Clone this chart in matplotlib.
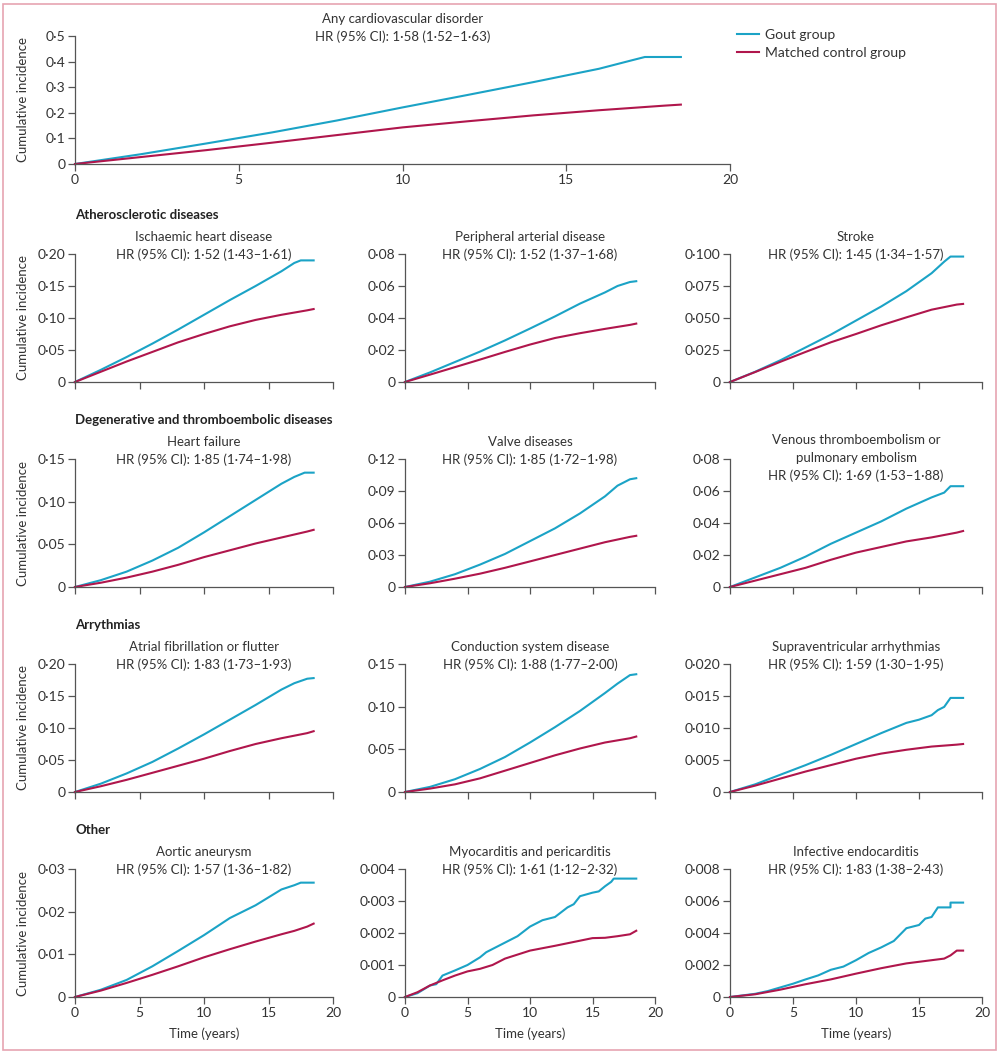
import matplotlib
matplotlib.use("Agg")
import matplotlib.pyplot as plt
from matplotlib.patches import Rectangle

plt.rcParams['font.family'] = ['Lato', 'DejaVu Sans']

BLUE = '#1ba3c6'
RED = '#b0164c'
TXT = '#333333'
AX = '#555555'

# ---- data ----
t_std = [0, 2, 4, 6, 8, 10, 12, 14, 16, 17, 18, 18.5]

# Any cardiovascular disorder
t_any = [0, 2, 4, 6, 8, 10, 12, 14, 16, 17, 17.4, 18.5]
gout_any = [0, 0.038, 0.08, 0.123, 0.17, 0.221, 0.27, 0.32, 0.372, 0.405, 0.418, 0.418]
t_any_c = [0, 2, 4, 6, 8, 10, 12, 14, 16, 18, 18.5]
ctrl_any = [0, 0.027, 0.054, 0.083, 0.113, 0.143, 0.167, 0.19, 0.21, 0.228, 0.232]

# Ischaemic heart disease
t_ihd = [0, 2, 4, 6, 8, 10, 12, 14, 16, 17, 17.5, 18.5]
gout_ihd = [0, 0.019, 0.039, 0.06, 0.082, 0.105, 0.128, 0.15, 0.173, 0.186, 0.19, 0.19]
t_ihd_c = [0, 2, 4, 6, 8, 10, 12, 14, 16, 18, 18.5]
ctrl_ihd = [0, 0.016, 0.032, 0.047, 0.062, 0.075, 0.087, 0.097, 0.105, 0.112, 0.114]

# Peripheral arterial disease
gout_pad = [0, 0.006, 0.0125, 0.019, 0.026, 0.0334, 0.041, 0.049, 0.056, 0.060, 0.0625, 0.063]
t_pad_c = [0, 2, 4, 6, 8, 10, 12, 14, 16, 18, 18.5]
ctrl_pad = [0, 0.0046, 0.0093, 0.014, 0.0188, 0.0234, 0.0275, 0.0305, 0.0332, 0.0357, 0.0365]

# Stroke
t_str = [0, 2, 4, 6, 8, 10, 12, 14, 16, 17, 17.5, 18.5]
gout_str = [0, 0.008, 0.017, 0.027, 0.037, 0.048, 0.059, 0.071, 0.085, 0.094, 0.098, 0.098]
t_str_c = [0, 2, 4, 6, 8, 10, 12, 14, 16, 18, 18.5]
ctrl_str = [0, 0.0078, 0.0158, 0.0235, 0.031, 0.0375, 0.0443, 0.0505, 0.0565, 0.0605, 0.061]

# Heart failure
t_hf = [0, 2, 4, 6, 8, 10, 12, 14, 16, 17, 17.8, 18.5]
gout_hf = [0, 0.008, 0.018, 0.031, 0.046, 0.064, 0.083, 0.102, 0.121, 0.129, 0.134, 0.134]
t_hf_c = [0, 2, 4, 6, 8, 10, 12, 14, 16, 18, 18.5]
ctrl_hf = [0, 0.005, 0.011, 0.018, 0.026, 0.035, 0.043, 0.051, 0.058, 0.065, 0.067]

# Valve diseases
gout_vd = [0, 0.005, 0.012, 0.021, 0.031, 0.043, 0.055, 0.069, 0.085, 0.095, 0.101, 0.102]
t_vd_c = [0, 2, 4, 6, 8, 10, 12, 14, 16, 18, 18.5]
ctrl_vd = [0, 0.0035, 0.0078, 0.0125, 0.018, 0.024, 0.030, 0.036, 0.042, 0.047, 0.048]

# Venous thromboembolism
t_vte = [0, 2, 4, 6, 8, 10, 12, 14, 16, 17, 17.5, 18.5]
gout_vte = [0, 0.006, 0.012, 0.019, 0.027, 0.034, 0.041, 0.049, 0.056, 0.059, 0.063, 0.063]
t_vte_c = [0, 2, 4, 6, 8, 10, 12, 14, 16, 18, 18.5]
ctrl_vte = [0, 0.004, 0.008, 0.012, 0.017, 0.0215, 0.025, 0.0285, 0.031, 0.034, 0.035]

# Atrial fibrillation or flutter
gout_af = [0, 0.013, 0.029, 0.047, 0.068, 0.090, 0.113, 0.136, 0.160, 0.170, 0.177, 0.178]
t_af_c = [0, 2, 4, 6, 8, 10, 12, 14, 16, 18, 18.5]
ctrl_af = [0, 0.009, 0.019, 0.030, 0.041, 0.052, 0.064, 0.075, 0.084, 0.092, 0.095]

# Conduction system disease
gout_csd = [0, 0.006, 0.015, 0.027, 0.041, 0.058, 0.076, 0.095, 0.116, 0.127, 0.137, 0.138]
t_csd_c = [0, 2, 4, 6, 8, 10, 12, 14, 16, 18, 18.5]
ctrl_csd = [0, 0.004, 0.009, 0.016, 0.025, 0.034, 0.043, 0.051, 0.058, 0.063, 0.065]

# Supraventricular arrhythmias
t_sva = [0, 2, 4, 6, 8, 10, 12, 14, 15, 16, 16.5, 17, 17.5, 18.5]
gout_sva = [0, 0.0012, 0.0027, 0.0042, 0.0058, 0.0075, 0.0092, 0.0108, 0.0113, 0.012, 0.0128, 0.0133, 0.0147, 0.0147]
t_sva_c = [0, 2, 4, 6, 8, 10, 12, 14, 16, 18, 18.5]
ctrl_sva = [0, 0.001, 0.0021, 0.0032, 0.0042, 0.0052, 0.006, 0.0066, 0.0071, 0.0074, 0.0075]

# Aortic aneurysm
t_aa = [0, 2, 4, 6, 8, 10, 12, 14, 16, 17, 17.5, 18.5]
gout_aa = [0, 0.0017, 0.004, 0.0072, 0.0108, 0.0145, 0.0185, 0.0215, 0.0252, 0.0262, 0.0268, 0.0268]
t_aa_c = [0, 2, 4, 6, 8, 10, 12, 14, 16, 17, 18, 18.5]
ctrl_aa = [0, 0.0015, 0.0033, 0.0052, 0.0072, 0.0093, 0.0112, 0.013, 0.0147, 0.0155, 0.0165, 0.0172]

# Myocarditis and pericarditis
t_myo = [0, 1, 2, 2.5, 3, 4, 5, 6, 6.5, 8, 9, 10, 11, 12, 13, 13.5, 14, 15, 15.5, 16, 16.5, 16.7, 18.5]
gout_myo = [0, 0.00012, 0.00036, 0.0004, 0.00067, 0.00083, 0.001, 0.00124, 0.0014, 0.0017, 0.0019,
            0.0022, 0.0024, 0.0025, 0.0028, 0.0029, 0.00315, 0.00326, 0.0033, 0.00346, 0.0036, 0.0037, 0.0037]
t_myo_c = [0, 1, 2, 3, 4, 5, 6, 7, 8, 10, 12, 14, 15, 16, 17, 18, 18.5]
ctrl_myo = [0, 0.00015, 0.00036, 0.00052, 0.00067, 0.0008, 0.00088, 0.001, 0.0012, 0.00145, 0.0016,
            0.00176, 0.00184, 0.00185, 0.0019, 0.00196, 0.00207]

# Infective endocarditis
t_ie = [0, 2, 3, 4, 5, 6, 7, 8, 9, 10, 11, 12, 13, 14, 15, 15.5, 16, 16.5, 17.5, 17.5, 18.5]
gout_ie = [0, 0.0002, 0.00037, 0.0006, 0.00083, 0.0011, 0.00135, 0.0017, 0.0019, 0.0023, 0.00275,
           0.0031, 0.0035, 0.0043, 0.0045, 0.0049, 0.005, 0.0056, 0.0056, 0.0059, 0.0059]
t_ie_c = [0, 2, 4, 5, 6, 8, 10, 12, 14, 15, 16, 17, 17.5, 18, 18.5]
ctrl_ie = [0, 0.00017, 0.00046, 0.00063, 0.0008, 0.0011, 0.00146, 0.0018, 0.0021, 0.0022, 0.0023,
           0.0024, 0.0026, 0.0029, 0.0029]

x_ticks = [0, 5, 10, 15, 20]

# name, HR text, yticks, decimals, gout t/y, control t/y
panels = [
    ("Ischaemic heart disease", "1·52 (1·43–1·61)", [0, 0.05, 0.10, 0.15, 0.20], 2, t_ihd, gout_ihd, t_ihd_c, ctrl_ihd),
    ("Peripheral arterial disease", "1·52 (1·37–1·68)", [0, 0.02, 0.04, 0.06, 0.08], 2, t_std, gout_pad, t_pad_c, ctrl_pad),
    ("Stroke", "1·45 (1·34–1·57)", [0, 0.025, 0.050, 0.075, 0.100], 3, t_str, gout_str, t_str_c, ctrl_str),
    ("Heart failure", "1·85 (1·74–1·98)", [0, 0.05, 0.10, 0.15], 2, t_hf, gout_hf, t_hf_c, ctrl_hf),
    ("Valve diseases", "1·85 (1·72–1·98)", [0, 0.03, 0.06, 0.09, 0.12], 2, t_std, gout_vd, t_vd_c, ctrl_vd),
    ("Venous thromboembolism or\npulmonary embolism", "1·69 (1·53–1·88)", [0, 0.02, 0.04, 0.06, 0.08], 2, t_vte, gout_vte, t_vte_c, ctrl_vte),
    ("Atrial fibrillation or flutter", "1·83 (1·73–1·93)", [0, 0.05, 0.10, 0.15, 0.20], 2, t_std, gout_af, t_af_c, ctrl_af),
    ("Conduction system disease", "1·88 (1·77–2·00)", [0, 0.05, 0.10, 0.15], 2, t_std, gout_csd, t_csd_c, ctrl_csd),
    ("Supraventricular arrhythmias", "1·59 (1·30–1·95)", [0, 0.005, 0.010, 0.015, 0.020], 3, t_sva, gout_sva, t_sva_c, ctrl_sva),
    ("Aortic aneurysm", "1·57 (1·36–1·82)", [0, 0.01, 0.02, 0.03], 2, t_aa, gout_aa, t_aa_c, ctrl_aa),
    ("Myocarditis and pericarditis", "1·61 (1·12–2·32)", [0, 0.001, 0.002, 0.003, 0.004], 3, t_myo, gout_myo, t_myo_c, ctrl_myo),
    ("Infective endocarditis", "1·83 (1·38–2·43)", [0, 0.002, 0.004, 0.006, 0.008], 3, t_ie, gout_ie, t_ie_c, ctrl_ie),
]
headings = ["Atherosclerotic diseases", "Degenerative and thromboembolic diseases", "Arrythmias", "Other"]

# ---- layout in pixels ----
W, H = 1000, 1054
FS = 9.5
LW = 1.5
fig = plt.figure(figsize=(W / 100, H / 100), dpi=100)


def px_axes(x0, x1, ytop, ybot):
    return fig.add_axes([x0 / W, 1 - ybot / H, (x1 - x0) / W, (ybot - ytop) / H])


def fmt(v, d):
    if v == 0:
        return "0"
    return f"{v:.{d}f}".replace(".", "·")


def style(ax, yt, dec, xlabels):
    ax.set_xlim(0, 20)
    ax.set_ylim(0, yt[-1])
    for s in ['top', 'right']:
        ax.spines[s].set_visible(False)
    for s in ['left', 'bottom']:
        ax.spines[s].set_color(AX)
        ax.spines[s].set_linewidth(0.9)
    ax.set_yticks(yt)
    ax.set_yticklabels([fmt(v, dec) for v in yt])
    ax.set_xticks(x_ticks)
    if xlabels:
        ax.set_xticklabels([str(v) for v in x_ticks])
    else:
        ax.set_xticklabels([])
    ax.tick_params(direction='out', length=5, width=0.9, color=AX, labelcolor=TXT,
                   labelsize=FS + 0.5, pad=2)


def title(ax, lines, hr_offset=-1):
    ax.annotate("HR (95% CI): " + lines[1], xy=(0.5, 1), xycoords='axes fraction',
                xytext=(0, hr_offset), textcoords='offset pixels', ha='center', va='center',
                fontsize=FS, color=TXT)
    names = lines[0].split("\n")
    for i, nm in enumerate(reversed(names)):
        ax.annotate(nm, xy=(0.5, 1), xycoords='axes fraction',
                    xytext=(0, hr_offset + 18 * (i + 1)), textcoords='offset pixels',
                    ha='center', va='center', fontsize=FS, color=TXT)


# top panel
ax0 = px_axes(75, 730, 36, 164)
ax0.plot(t_any, gout_any, color=BLUE, lw=LW, label="Gout group", clip_on=False)
ax0.plot(t_any_c, ctrl_any, color=RED, lw=LW, label="Matched control group", clip_on=False)
style(ax0, [0, 0.1, 0.2, 0.3, 0.4, 0.5], 1, True)
title(ax0, ("Any cardiovascular disorder", "1·58 (1·52–1·63)"))
fig.text(0.023, 1 - 100 / H, "Cumulative incidence", rotation=90, ha='center', va='center',
         fontsize=FS, color=TXT)
fig.legend(loc='upper left', bbox_to_anchor=(737 / W, 1 - 29 / H), frameon=False,
           fontsize=FS + 0.5, handlelength=1.6, handletextpad=0.45, labelspacing=0.4,
           labelcolor=TXT, borderaxespad=0, borderpad=0)

cols = [(75, 333), (405, 655), (730, 982)]
rows = [(254, 382), (459, 587), (664, 792), (869, 997)]

for i, (name, hr, yt, dec, tg, yg, tc, yc) in enumerate(panels):
    r, c = divmod(i, 3)
    x0, x1 = cols[c]
    ytop, ybot = rows[r]
    ax = px_axes(x0, x1, ytop, ybot)
    ax.plot(tg, yg, color=BLUE, lw=LW, clip_on=False)
    ax.plot(tc, yc, color=RED, lw=LW, clip_on=False)
    style(ax, yt, dec, r == 3)
    if "\n" in name:
        title(ax, (name, hr), hr_offset=-17)
    else:
        title(ax, (name, hr))
    if r == 3:
        ax.set_xlabel("Time (years)", fontsize=FS, color=TXT, labelpad=6)
    if c == 0:
        fig.text(0.023, 1 - (ytop + ybot) / 2 / H, "Cumulative incidence", rotation=90,
                 ha='center', va='center', fontsize=FS, color=TXT)
        fig.text(75 / W, 1 - (ytop - 39) / H, headings[r], ha='left', va='center',
                 fontsize=FS, fontweight='bold', color='#222222')

# pink frame
fig.patches.append(Rectangle((3 / W, 4 / H), 993 / W, 1046 / H, transform=fig.transFigure,
                             fill=False, edgecolor='#e6a4b2', linewidth=1.2))

fig.savefig("out.png", dpi=100)
